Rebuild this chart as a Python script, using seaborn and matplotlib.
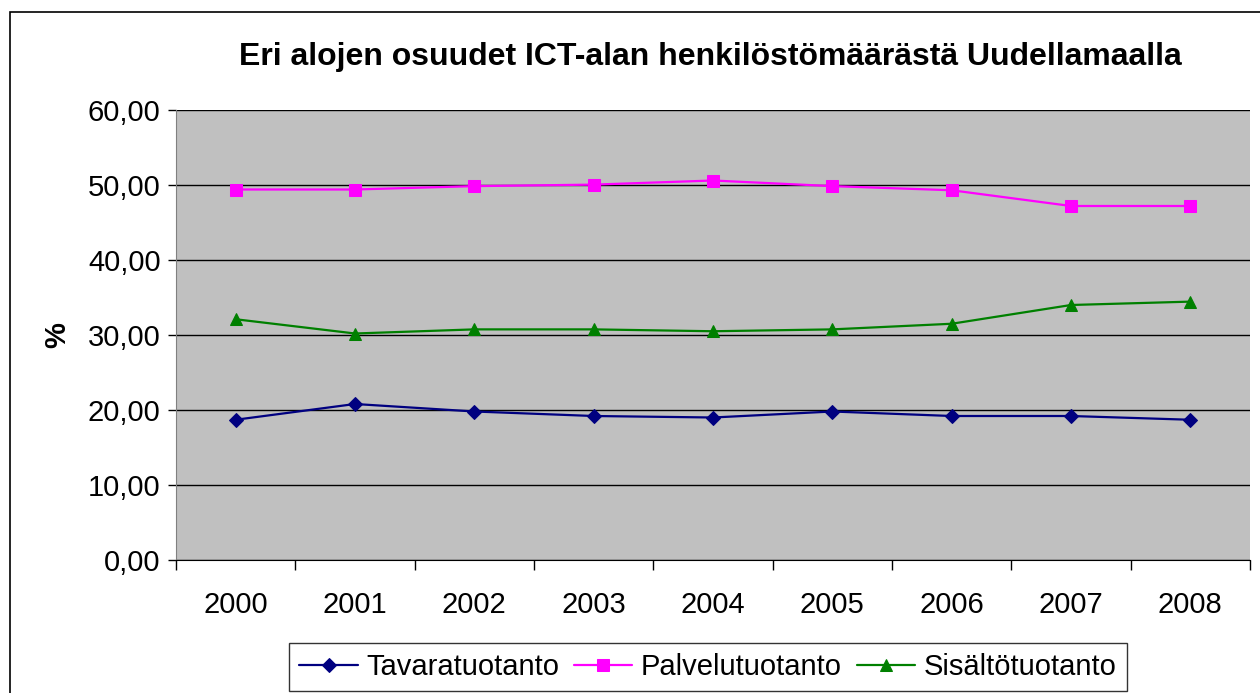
import numpy as np
import pandas as pd
import seaborn as sns
import matplotlib.pyplot as plt
from matplotlib.patches import Rectangle

years = ["2000", "2001", "2002", "2003", "2004", "2005", "2006", "2007", "2008"]
tavaratuotanto = [18.7, 20.8, 19.8, 19.2, 19.0, 19.8, 19.2, 19.2, 18.7]
palvelutuotanto = [49.4, 49.4, 49.85, 50.05, 50.6, 49.85, 49.3, 47.2, 47.2]
sisaltotuotanto = [32.1, 30.2, 30.75, 30.75, 30.5, 30.75, 31.5, 34.0, 34.45]
series_names = ["Tavaratuotanto", "Palvelutuotanto", "Sisältötuotanto"]
y_ticks = [0, 10, 20, 30, 40, 50, 60]

sns.set_style("ticks")
plt.rcParams['font.family'] = ['Liberation Sans', 'DejaVu Sans']
plt.rcParams.update({"text.color": "black", "axes.labelcolor": "black",
                     "xtick.color": "black", "ytick.color": "black"})

# long table for seaborn
rows = []
for name, vals in zip(series_names, [tavaratuotanto, palvelutuotanto, sisaltotuotanto]):
    for i, v in enumerate(vals):
        rows.append({"pos": i, "vuosi": years[i], "arvo": v, "sarja": name})
df = pd.DataFrame(rows)

colors = {"Tavaratuotanto": "#000080", "Palvelutuotanto": "#FF00FF", "Sisältötuotanto": "#008000"}
markers = {"Tavaratuotanto": "D", "Palvelutuotanto": "s", "Sisältötuotanto": "^"}
sizes = {"Tavaratuotanto": 7, "Palvelutuotanto": 8, "Sisältötuotanto": 9}

fig = plt.figure(figsize=(12.6, 6.93), dpi=100)
ax = fig.add_axes([176/1260, 1-560/693, (1250-176)/1260, (560-110)/693])
ax.set_facecolor("#C0C0C0")

for name in series_names:
    sub = df[df["sarja"] == name]
    sns.lineplot(data=sub, x="pos", y="arvo", color=colors[name], marker=markers[name],
                 markersize=sizes[name], markeredgecolor=colors[name], linewidth=1.6,
                 label=name, ax=ax, legend=False)

ax.set_xlim(-0.5, 8.5)
ax.set_ylim(0, 60)
ax.set_yticks(y_ticks)
ax.set_yticklabels([f"{t:.2f}".replace(".", ",") for t in y_ticks], fontsize=21)
ax.set_xticks(range(len(years)))
ax.set_xticklabels(years, fontsize=21)
ax.set_xticks(np.arange(-0.5, 9, 1), minor=True)
ax.tick_params(axis="x", which="major", length=0, pad=22)
ax.tick_params(axis="x", which="minor", length=7, width=1, color="black")
ax.tick_params(axis="y", length=6, width=1, pad=5, color="black")
ax.yaxis.grid(True, color="black", linewidth=1)
ax.set_axisbelow(True)
for s in ["top", "right"]:
    ax.spines[s].set_visible(False)
ax.spines["left"].set_color("#808080")
ax.spines["bottom"].set_color("black")
ax.set_xlabel("")
ax.set_ylabel("%", fontsize=21, fontweight="bold", labelpad=12)

fig.text(710/1260, 1-57/693, "Eri alojen osuudet ICT-alan henkilöstömäärästä Uudellamaalla",
         ha="center", va="center", fontsize=23, fontweight="bold")

handles, labels = ax.get_legend_handles_labels()
leg = fig.legend(handles, labels, loc="upper center", bbox_to_anchor=(708/1260, 1-643/693),
                 ncol=3, fontsize=21, frameon=True, fancybox=False, edgecolor="black",
                 handlelength=2.0, columnspacing=0.5, handletextpad=0.3, borderpad=0.35,
                 borderaxespad=0)
leg.get_frame().set_linewidth(1)

fig.patches.append(Rectangle((10/1260, -0.05), 1.2, 1-12/693+0.05, transform=fig.transFigure,
                             fill=False, edgecolor="black", linewidth=1.2))

fig.savefig("out.png", dpi=100)
